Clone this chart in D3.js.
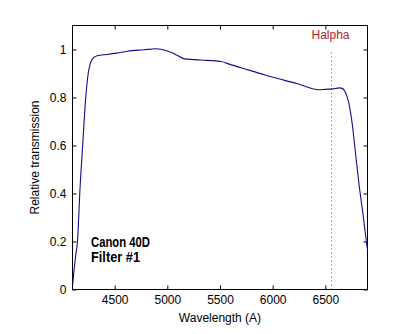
<!DOCTYPE html>
<html>
<head>
<meta charset="utf-8">
<script src="https://cdn.jsdelivr.net/npm/d3@7"></script>
<style>
  html, body { margin: 0; padding: 0; background: #fff; }
  svg { display: block; font-family: "Liberation Sans", Arial, Helvetica, sans-serif; }
</style>
</head>
<body>
<svg id="chart" width="406" height="334"></svg>
<script>
// Filter transmission curve (wavelength in Angstrom, relative transmission)
const wavelengths = [4102, 4110, 4130, 4148, 4170, 4195, 4224, 4249, 4265, 4281, 4300, 4345,
  4400, 4519, 4621, 4779, 4890, 4950, 4986, 5050, 5097, 5160, 5250, 5319, 5510, 5600,
  5700, 5919, 6236, 6443, 6500, 6570, 6633, 6660, 6681, 6705, 6724, 6755, 6787, 6819,
  6857, 6888, 6900];
const transmission = [0.02, 0.06, 0.14, 0.204, 0.41, 0.59, 0.79, 0.90, 0.935, 0.954, 0.966, 0.975,
  0.978, 0.985, 0.993, 0.999, 1.003, 1.0, 0.996, 0.985, 0.975, 0.961, 0.958, 0.956, 0.950, 0.937,
  0.924, 0.895, 0.857, 0.832, 0.834, 0.836, 0.840, 0.838, 0.829, 0.805, 0.774, 0.69, 0.565, 0.44,
  0.315, 0.204, 0.165];

const xTicks = [4500, 5000, 5500, 6000, 6500];
const yTicks = [0, 0.2, 0.4, 0.6, 0.8, 1];
const yTickLabels = ["0", "0.2", "0.4", "0.6", "0.8", "1"];

const halphaWavelength = 6563;
const halphaLabel = "Halpha";
const noteLines = ["Canon 40D", "Filter #1"];

const svg = d3.select("#chart");

const x = d3.scaleLinear().domain([4100, 6900]).range([72.5, 367.5]);
const y = d3.scaleLinear().domain([0, 1.1]).range([289.5, 25.5]);

const fontSize = "12px";

// Axes with inward ticks on all four sides
const axisB = svg.append("g").attr("transform", `translate(0,${y(0)})`)
  .call(d3.axisBottom(x).tickValues(xTicks).tickSizeInner(-4).tickSizeOuter(0).tickPadding(6)
    .tickFormat(d3.format("d")));
const axisT = svg.append("g").attr("transform", `translate(0,${y(1.1)})`)
  .call(d3.axisTop(x).tickValues(xTicks).tickSizeInner(-4).tickSizeOuter(0).tickFormat(""));
const axisL = svg.append("g").attr("transform", `translate(${x(4100)},0)`)
  .call(d3.axisLeft(y).tickValues(yTicks).tickSizeInner(-4).tickSizeOuter(0).tickPadding(6)
    .tickFormat((d, i) => yTickLabels[i]));
const axisR = svg.append("g").attr("transform", `translate(${x(6900)},0)`)
  .call(d3.axisRight(y).tickValues(yTicks).tickSizeInner(-4).tickSizeOuter(0).tickFormat(""));

[axisB, axisT, axisL, axisR].forEach(g => {
  g.select(".domain").remove();
  g.selectAll(".tick line").attr("stroke", "#000");
  g.selectAll("text").attr("font-size", fontSize).attr("font-family", null).attr("fill", "#000");
});

// Plot box
svg.append("rect")
  .attr("x", x(4100)).attr("y", y(1.1))
  .attr("width", x(6900) - x(4100)).attr("height", y(0) - y(1.1))
  .attr("fill", "none").attr("stroke", "#000").attr("stroke-width", 1);

// H-alpha marker (snapped to a pixel column so the dots stay crisp)
const hx = Math.round(x(halphaWavelength)) - 0.5;
svg.append("line")
  .attr("x1", hx).attr("x2", hx)
  .attr("y1", y(0)).attr("y2", y(1))
  .attr("stroke", "#cc1f1f").attr("stroke-width", 1).attr("stroke-dasharray", "1,3");
svg.append("text")
  .attr("x", hx - 1).attr("y", y(1.05) + 1)
  .attr("text-anchor", "middle").attr("font-size", fontSize).attr("fill", "#b41e1e")
  .text(halphaLabel);

// Transmission curve
const pts = wavelengths.map((w, i) => [w, transmission[i]]);
svg.append("path")
  .datum(pts)
  .attr("fill", "none").attr("stroke", "#10108a").attr("stroke-width", 1.1)
  .attr("d", d3.line().x(d => x(d[0])).y(d => y(d[1])).curve(d3.curveMonotoneX));

// Annotation
const noteWidths = [59, 49];
const note = svg.append("text").attr("font-weight", "bold").attr("font-size", "14px");
noteLines.forEach((t, i) => {
  note.append("tspan").attr("x", 91).attr("y", 247 + i * 15)
    .attr("textLength", noteWidths[i]).attr("lengthAdjust", "spacingAndGlyphs")
    .text(t);
});

// Axis titles
svg.append("text")
  .attr("x", (x(4100) + x(6900)) / 2).attr("y", 322)
  .attr("text-anchor", "middle").attr("font-size", fontSize)
  .text("Wavelength (A)");
svg.append("text")
  .attr("transform", `translate(39,${(y(0) + y(1.1)) / 2}) rotate(-90)`)
  .attr("text-anchor", "middle").attr("font-size", fontSize)
  .text("Relative transmission");
</script>
</body>
</html>
